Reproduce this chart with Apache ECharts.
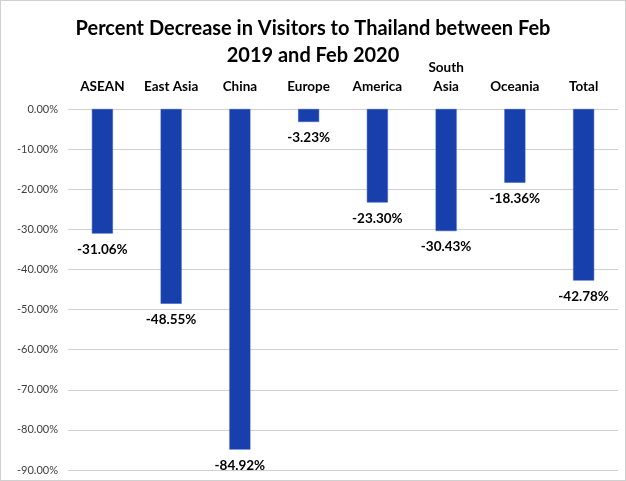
<!DOCTYPE html>
<html><head><meta charset="utf-8">
<script src="https://cdn.jsdelivr.net/npm/echarts@6/dist/echarts.min.js"></script>
<style>html,body{margin:0;padding:0;background:#fff}#c{width:624px;height:479px;border:1px solid #d0d0d0}</style>
</head><body><div id="c"></div>
<script>
const categories = ['ASEAN','East Asia','China','Europe','America','South\nAsia','Oceania','Total'];
const values = [-31.06,-48.55,-84.92,-3.23,-23.30,-30.43,-18.36,-42.78];
const titleText = 'Percent Decrease in Visitors to Thailand between Feb\n2019 and Feb 2020';
const F = 'Lato, "Open Sans", sans-serif';
const chart = echarts.init(document.getElementById('c'));
chart.setOption({
  animation:false,
  title:{text:titleText,left:'center',top:9,textStyle:{fontFamily:F,fontSize:20,fontWeight:'bold',color:'#000',lineHeight:27}},
  grid:{left:67,right:7,top:108,bottom:10,containLabel:false},
  xAxis:{type:'category',position:'top',data:categories,
    axisLine:{show:false},axisTick:{show:false},
    axisLabel:{margin:13,fontFamily:F,fontSize:13.5,fontWeight:'bold',color:'#000',lineHeight:19,interval:0}},
  yAxis:{type:'value',min:-90,max:0,interval:10,
    axisLine:{show:false},axisTick:{show:false},
    splitLine:{lineStyle:{color:'#d0d0d0',width:1}},
    axisLabel:{fontFamily:F,fontSize:11,color:'#404040',margin:10,formatter:v=>v.toFixed(2)+'%'}},
  series:[{type:'bar',data:values,barWidth:21,
    itemStyle:{color:'#1740AC',borderColor:'#2a55c4',borderWidth:0.5},
    label:{show:true,position:'bottom',distance:9,fontFamily:F,fontSize:13.5,fontWeight:'bold',color:'#000',formatter:p=>p.value.toFixed(2)+'%'}}]
});
</script></body></html>
